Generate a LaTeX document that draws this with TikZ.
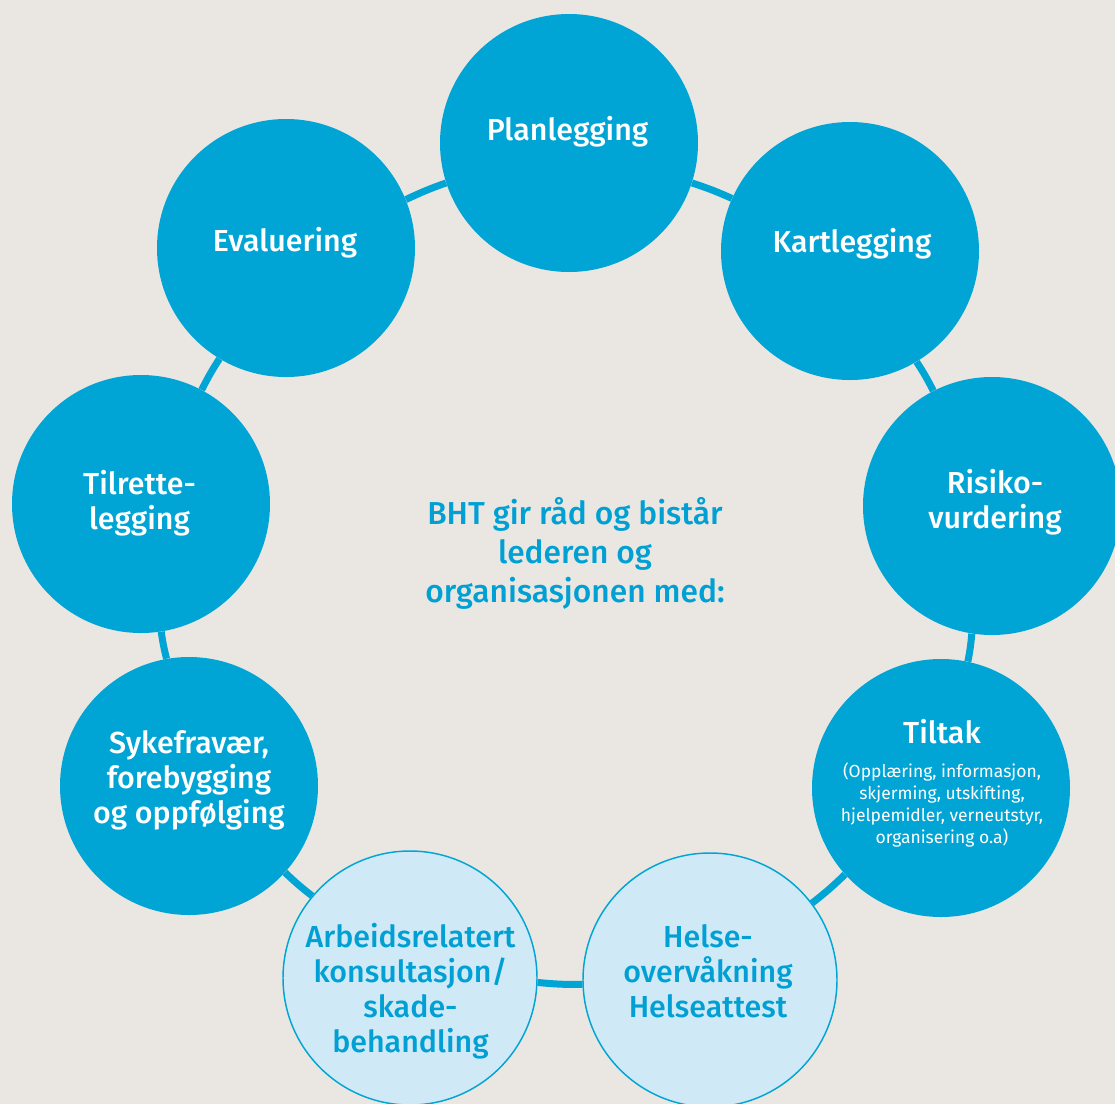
\documentclass[tikz,border=0pt]{standalone}
\usepackage{fontspec}
\setmainfont{Fira Sans}[BoldFont={Fira Sans Medium}]
\definecolor{bhtblue}{RGB}{0,165,213}
\definecolor{bhtlight}{RGB}{208,233,246}
\definecolor{bhttext}{RGB}{0,160,212}
\definecolor{bhtbg}{RGB}{234,231,226}
\begin{document}
\begin{tikzpicture}[x=0.75pt,y=-0.75pt,
  darkc/.style={circle, fill=bhtblue, draw=none, inner sep=0pt, minimum size=193.5pt},
  lightc/.style={circle, fill=bhtlight, draw=bhtblue, line width=1.1pt, inner sep=0pt, minimum size=190.5pt},
  link/.style={draw=bhtblue, line width=5.25pt},
  lbl/.style={font=\bfseries\fontsize{22.8}{26.25}\selectfont, align=center, anchor=base, inner sep=0pt, text=white},
  lbllight/.style={lbl, text=bhttext},
  sublbl/.style={font=\fontsize{13.1}{16.5}\selectfont, align=center, anchor=base, inner sep=0pt, text=white},
  centre/.style={font=\bfseries\fontsize{23.8}{29.25}\selectfont, align=center, anchor=base, inner sep=0pt, text=bhttext},
]
\useasboundingbox (0,0) rectangle (1115,1104);
\fill[bhtbg] (0,0) rectangle (1115,1104);

% circles
\node[darkc]  (plan)  at (569,143) {};
\node[darkc]  (kart)  at (850,251) {};
\node[darkc]  (risk)  at (992,506) {};
\node[darkc]  (tilt)  at (941,788) {};
\node[lightc] (helse) at (710,980) {};
\node[lightc] (arb)   at (410,978) {};
\node[darkc]  (syke)  at (189,786) {};
\node[darkc]  (tilr)  at (141,504) {};
\node[darkc]  (eval)  at (286,248) {};

% ring connectors (short arcs of one large ring)
\draw[link] (plan.-18.8)  to[bend left=3] (kart.156.7);
\draw[link] (kart.-59.1)  to[bend left=3] (risk.117.4);
\draw[link] (risk.-99)    to[bend left=3] (tilt.78.5);
\draw[link] (tilt.222.3)  to[bend left=3] (helse.37.1);
\draw[link] (helse.182.1) to[bend left=3] (arb.-2.7);
\draw[link] (arb.140.3)   to[bend left=3] (syke.-42.4);
\draw[link] (syke.100.8)  to[bend left=3] (tilr.-81.6);
\draw[link] (tilr.62.6)   to[bend left=3] (eval.-121.6);
\draw[link] (eval.22.8)   to[bend left=3] (plan.198);

% labels (anchor = baseline of the last line)
\node[lbl] (plan-t) at (567.5,140) {Planlegging};
\node[lbl] (kart-t) at (852,252) {Kartlegging};
\node[lbl] (risk-t) at (995,528) {Risiko-\\vurdering};
\node[lbl] (tilt-t) at (942,743) {Tiltak};
\node[sublbl] (tilt-s) at (942,843) {(Opplæring, informasjon,\\skjerming, utskifting,\\hjelpemidler, verneutstyr,\\organisering o.a)};
\node[lbllight] (helse-t) at (708,1017) {Helse-\\overvåkning\\Helseattest};
\node[lbllight] (arb-t) at (410.5,1052) {Arbeidsrelatert\\konsultasjon/\\skade-\\behandling};
\node[lbl] (syke-t) at (189,823) {Sykefravær,\\forebygging\\og oppfølging};
\node[lbl] (tilr-t) at (139.5,529) {Tilrette-\\legging};
\node[lbl] (eval-t) at (285,251) {Evaluering};
\node[centre] (mid) at (575,602) {BHT gir råd og bistår\\lederen og\\organisasjonen med:};
\end{tikzpicture}
\end{document}
